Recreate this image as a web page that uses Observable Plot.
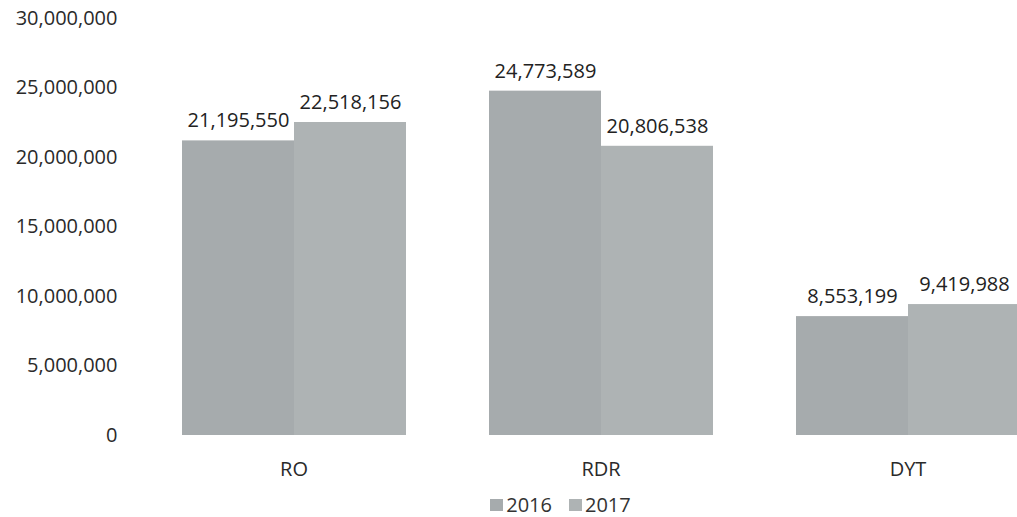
<!DOCTYPE html>
<html>
<head>
<meta charset="utf-8">
<script src="https://cdn.jsdelivr.net/npm/d3@7"></script>
<script src="https://cdn.jsdelivr.net/npm/@observablehq/plot@0.6"></script>
<style>
  html, body { margin: 0; padding: 0; background: #fff; }
  #chart { width: 1017px; height: 517px; position: relative; }
  #chart svg { display: block; }
  .legend { font-family: "Open Sans", sans-serif; font-size: 20px; color: #333; line-height: 24px; height: 24px;
            display: flex; justify-content: center; align-items: center; gap: 17px; padding-left: 104px; padding-top: 3px; }
  .legend span.item { display: inline-flex; align-items: center; gap: 3px; }
  .legend i { display: inline-block; width: 13px; height: 12px; }
</style>
</head>
<body>
<div id="chart"></div>
<script>
const categories = ["RO", "RDR", "DYT"];
const years = ["2016", "2017"];
const values2016 = [21195550, 24773589, 8553199];
const values2017 = [22518156, 20806538, 9419988];
const yTicks = [0, 5000000, 10000000, 15000000, 20000000, 25000000, 30000000];
const yearColors = ["#a6abad", "#aeb3b4"];

const data = [];
categories.forEach((c, i) => {
  data.push({category: c, year: years[0], value: values2016[i]});
  data.push({category: c, year: years[1], value: values2017[i]});
});
const fmt = d3.format(",");

const chart = Plot.plot({
  width: 1017,
  height: 490,
  marginLeft: 135,
  marginRight: -48,
  marginTop: 18,
  marginBottom: 55,
  style: {fontFamily: "Open Sans", fontSize: "20px", color: "#2a2a2a", background: "white", overflow: "hidden"},
  fx: {domain: categories, paddingInner: 0.268, paddingOuter: 0.146, axis: "bottom", tickSize: 0, tickPadding: 26, label: null},
  x: {domain: years, padding: 0, axis: null},
  y: {domain: [0, 30000000], ticks: yTicks, tickFormat: fmt, tickSize: 0, tickPadding: 64, label: null},
  color: {domain: years, range: yearColors},
  marks: [
    Plot.barY(data, {fx: "category", x: "year", y: "value", fill: "year"}),
    Plot.text(data, {fx: "category", x: "year", y: "value", text: d => fmt(d.value), dy: -20, fontSize: 20, fill: "#222"})
  ]
});
const root = document.getElementById("chart");
root.appendChild(chart);

const legend = document.createElement("div");
legend.className = "legend";
years.forEach((y, i) => {
  const item = document.createElement("span");
  item.className = "item";
  const sw = document.createElement("i");
  sw.style.background = yearColors[i];
  item.appendChild(sw);
  item.appendChild(document.createTextNode(y));
  legend.appendChild(item);
});
root.appendChild(legend);
</script>
</body>
</html>
